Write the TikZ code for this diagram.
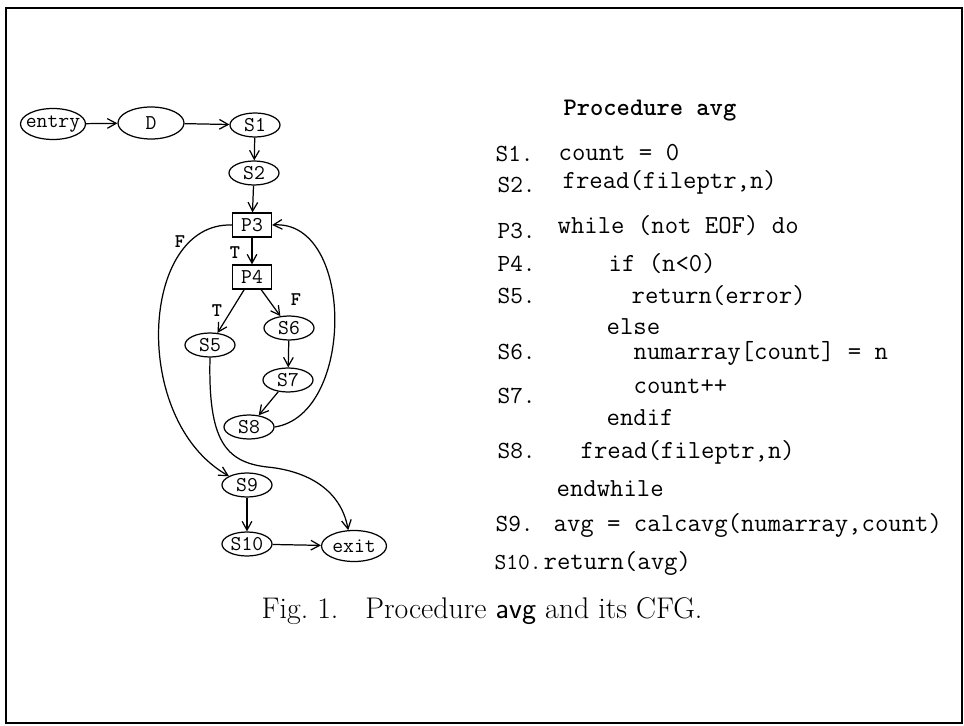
\documentclass[tikz,border=0pt]{standalone}
\usepackage{fontspec}
\usetikzlibrary{shapes.geometric,arrows.meta}

\tikzset{
  stmt/.style={ellipse, draw, inner xsep=-3.4pt, inner ysep=0pt,
    minimum width=1cm, minimum height=0.48cm,
    font=\ttfamily\fontsize{12}{14}\selectfont},
  pred/.style={rectangle, draw, inner sep=0pt, minimum width=0.78cm,
    minimum height=0.48cm, font=\ttfamily\fontsize{12}{14}\selectfont},
  flow/.style={-{Straight Barb[length=5pt,width=5.5pt]}},
  branch/.style={font=\ttfamily\bfseries\fontsize{11}{12}\selectfont, inner sep=0pt},
  lbl/.style={anchor=base west, inner sep=0pt,
    font=\ttfamily\fontsize{14}{16}\selectfont},
  code/.style={anchor=base west, inner sep=0pt,
    font=\ttfamily\fontsize{14.8}{16}\selectfont}
}

\begin{document}
\begin{tikzpicture}[x=0.02cm,y=-0.02cm,line width=0.7pt]
  \useasboundingbox (0,0) rectangle (964,726);
  \draw[line width=1.6pt] (6,8) rectangle (962,723);

  % control flow graph
  \node[stmt, minimum width=1.3cm, minimum height=0.62cm] (entry) at (53,124) {entry};
  \node[stmt, minimum width=1.32cm, minimum height=0.64cm] (D) at (151,123) {D};
  \node[stmt] (S1) at (255,125) {S1};
  \node[stmt] (S2) at (254,173) {S2};
  \node[pred] (P3) at (252,225) {P3};
  \node[pred] (P4) at (252,277) {P4};
  \node[stmt] (S5) at (210,345) {S5};
  \node[stmt] (S6) at (289,328) {S6};
  \node[stmt] (S7) at (288,380) {S7};
  \node[stmt] (S8) at (249,427) {S8};
  \node[stmt] (S9) at (247,485) {S9};
  \node[stmt] (S10) at (247,544) {S10};
  \node[stmt, minimum width=1.3cm, minimum height=0.62cm] (exit) at (354,546) {exit};
  \coordinate (bend) at (267,467);

  \draw[flow] (entry) -- (D);
  \draw[flow] (D) -- (S1);
  \draw[flow] (S1) -- (S2);
  \draw[flow] (S2) -- (P3);
  \draw[flow] (P3) -- (P4);
  \draw[flow] (P4) -- (S5);
  \draw[flow] (P4) -- (S6);
  \draw[flow] (S6) -- (S7);
  \draw[flow] (S7) -- (S8);
  \draw[flow] (S8.east) .. controls (355,415) and (355,220) .. (P3.east);
  \draw[flow] (P3.west) .. controls (140,222) and (130,420) .. (S9.north west);
  \draw (S5.south) .. controls (208,440) and (225,462) .. (bend);
  \draw[flow] (bend) .. controls (300,470) and (340,485) .. (exit.110);
  \draw[flow] (S9) -- (S10);
  \draw[flow] (S10) -- (exit);

  \node[branch] (fP3) at (180,242) {F};
  \node[branch] (tP3) at (235,253) {T};
  \node[branch] (tP4) at (217,311) {T};
  \node[branch] (fP4) at (296,300) {F};

  % procedure text
  \node[code, font=\ttfamily\bfseries\fontsize{14.4}{16}\selectfont] (title) at (563,116) {Procedure avg};
  \node[lbl] (lS1) at (495,162) {S1.};
  \node[code] (cS1) at (558,161) {count = 0};
  \node[lbl] (lS2) at (497,193) {S2.};
  \node[code] (cS2) at (562,189) {fread(fileptr,n)};
  \node[lbl] (lP3) at (497,239) {P3.};
  \node[code] (cP3) at (557,234) {while (not EOF) do};
  \node[lbl] (lP4) at (497,272) {P4.};
  \node[code] (cP4) at (608,272) {if (n<0)};
  \node[lbl] (lS5) at (497,304) {S5.};
  \node[code] (cS5) at (631,304) {return(error)};
  \node[code] (else) at (606,335) {else};
  \node[lbl] (lS6) at (497,359) {S6.};
  \node[code] (cS6) at (633,359) {numarray[count] = n};
  \node[lbl] (lS7) at (497,403) {S7.};
  \node[code] (cS7) at (633,394) {count++};
  \node[code] (endif) at (606,425) {endif};
  \node[lbl] (lS8) at (497,458) {S8.};
  \node[code] (cS8) at (580,458) {fread(fileptr,n)};
  \node[code] (endwhile) at (556,496) {endwhile};
  \node[lbl] (lS9) at (495,531) {S9.};
  \node[code] (cS9) at (553,531) {avg = calcavg(numarray,count)};
  \node[lbl, font=\ttfamily\fontsize{13}{15}\selectfont] (lS10) at (494,569) {S10.};
  \node[code] (cS10) at (543,569) {return(avg)};

  \node[anchor=base west, inner sep=0pt, font=\fontsize{17}{20}\selectfont]
    (caption) at (261,618) {Fig.~1.\hspace{0.9em}Procedure \textsf{avg} and its CFG.};
\end{tikzpicture}
\end{document}
